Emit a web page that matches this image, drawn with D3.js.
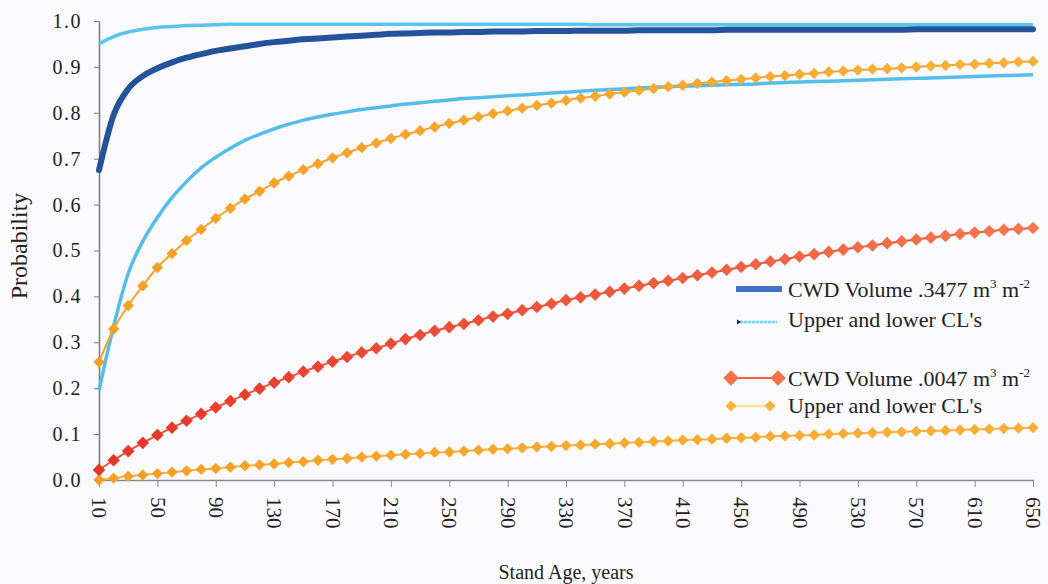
<!DOCTYPE html>
<html>
<head>
<meta charset="utf-8">
<script src="https://cdn.jsdelivr.net/npm/d3@7"></script>
<style>
  body { margin: 0; background: #fafafc; }
  svg { display: block; }
  text { font-family: "Liberation Serif", "Times New Roman", serif; fill: #222; }
</style>
</head>
<body>
<svg id="chart" width="1048" height="584"></svg>
<script>
// stand age, every 10 years
const ages = d3.range(10, 651, 10);
const xTicks = d3.range(10, 651, 40);
const yTicks = [0, 0.1, 0.2, 0.3, 0.4, 0.5, 0.6, 0.7, 0.8, 0.9, 1.0];

// CWD volume .3477 m3 m-2 and its confidence limits
const bigMain = [
    .675, .795, .852, .880, .897, .910, .920, .928, .935, .940,
    .945, .950, .954, .957, .960, .962, .964, .966, .968, .970,
    .972, .973, .974, .975, .975, .976, .976, .977, .977, .977,
    .978, .978, .978, .979, .979, .979, .979, .980, .980, .980,
    .980, .980, .980, .981, .981, .981, .981, .981, .981, .981,
    .981, .981, .981, .981, .981, .981, .982, .982, .982, .982,
    .982, .982, .982, .982, .982
];
const bigUpper = [
    .950, .966, .976, .982, .986, .988, .990, .991, .992, .993,
    .993, .993, .993, .993, .993, .993, .993, .993, .993, .993,
    .993, .993, .993, .993, .993, .993, .993, .993, .993, .993,
    .993, .993, .993, .993, .992, .992, .992, .992, .992, .992,
    .992, .992, .992, .992, .992, .992, .992, .992, .992, .992,
    .992, .992, .992, .992, .992, .992, .992, .992, .992, .992,
    .992, .992, .992, .992, .992
];
const bigLower = [
    .195, .335, .450, .520, .572, .615, .650, .680, .703, .723,
    .740, .753, .765, .775, .784, .791, .797, .802, .807, .811,
    .815, .819, .822, .825, .828, .831, .833, .835, .837, .839,
    .841, .843, .845, .847, .849, .851, .852, .854, .855, .857,
    .858, .859, .860, .861, .862, .863, .865, .866, .867, .868,
    .869, .870, .871, .872, .873, .874, .875, .876, .877, .878,
    .879, .880, .881, .882, .883
];

// CWD volume .0047 m3 m-2 and its confidence limits
const smallMain = [
    .022, .043, .063, .081, .098, .114, .129, .144, .158, .172,
    .186, .199, .212, .224, .236, .247, .258, .268, .278, .287,
    .297, .307, .316, .325, .333, .340, .348, .356, .362, .370,
    .377, .384, .392, .398, .404, .410, .417, .423, .429, .434,
    .440, .446, .452, .458, .464, .470, .476, .481, .487, .492,
    .497, .502, .507, .511, .516, .520, .524, .528, .532, .536,
    .539, .542, .545, .547, .549
];
const smallUpper = [
    .257, .329, .380, .423, .463, .493, .522, .546, .570, .592,
    .612, .629, .647, .662, .676, .689, .702, .713, .724, .734,
    .744, .753, .761, .769, .777, .784, .791, .798, .804, .810,
    .816, .821, .827, .832, .836, .841, .845, .849, .853, .857,
    .860, .864, .867, .870, .873, .876, .879, .881, .884, .886,
    .889, .891, .893, .895, .896, .898, .900, .902, .903, .905,
    .906, .908, .909, .911, .912
];
const smallLower = [
    .000, .004, .008, .011, .014, .017, .020, .023, .025, .028,
    .031, .033, .035, .038, .040, .043, .045, .047, .050, .052,
    .054, .056, .058, .060, .061, .063, .065, .067, .068, .070,
    .072, .073, .075, .076, .078, .079, .081, .082, .084, .085,
    .087, .088, .089, .091, .092, .093, .095, .096, .097, .098,
    .100, .101, .102, .103, .104, .105, .106, .107, .108, .109,
    .110, .111, .112, .113, .114
];

const svg = d3.select('#chart');

const x = d3.scaleLinear().domain([10, 650]).range([99, 1033]);
const y = d3.scaleLinear().domain([0, 1]).range([480, 21]);

function pairs(vals) {
    return ages.map((a, i) => [a, vals[i]]);
}

const line = d3.line()
    .x(d => x(d[0]))
    .y(d => y(d[1]))
    .curve(d3.curveMonotoneX);

// axes
const yAxis = svg.append('g')
    .attr('transform', `translate(${x(10)},0)`)
    .call(d3.axisLeft(y).tickValues(yTicks).tickFormat(d3.format('.1f')).tickSize(5).tickSizeOuter(0));
yAxis.select('.domain').attr('stroke', '#7a7a7a').attr('stroke-width', 1.5);
yAxis.selectAll('.tick line').attr('stroke', '#7a7a7a');
yAxis.selectAll('.tick text')
    .attr('x', -17)
    .style('font-family', '"Liberation Serif", serif')
    .style('font-size', '20px')
    .style('letter-spacing', '1.5px')
    .attr('fill', '#1e1e1e');

const xAxis = svg.append('g')
    .attr('transform', `translate(0,${y(0)})`)
    .call(d3.axisBottom(x).tickValues(xTicks).tickSize(7).tickSizeOuter(0));
xAxis.select('.domain').attr('stroke', '#8a8a8a').attr('stroke-width', 1.5);
xAxis.selectAll('.tick line').attr('stroke', '#8a8a8a');
xAxis.selectAll('.tick text')
    .attr('y', 0)
    .attr('x', 17)
    .attr('dy', '0.35em')
    .attr('transform', 'rotate(90)')
    .style('text-anchor', 'start')
    .style('font-family', '"Liberation Serif", serif')
    .style('font-size', '21px')
    .attr('fill', '#1e1e1e');

svg.append('text')
    .attr('transform', 'translate(27,246) rotate(-90)')
    .attr('text-anchor', 'middle')
    .style('font-size', '24px')
    .text('Probability');

svg.append('text')
    .attr('x', 566)
    .attr('y', 579)
    .attr('text-anchor', 'middle')
    .style('font-size', '20px')
    .text('Stand Age, years');

// blue series (plain lines)
svg.append('path')
    .datum(pairs(bigLower))
    .attr('fill', 'none')
    .attr('stroke', '#55bde9')
    .attr('stroke-width', 3.5)
    .attr('d', line);

svg.append('path')
    .datum(pairs(bigUpper))
    .attr('fill', 'none')
    .attr('stroke', '#5ac4ef')
    .attr('stroke-width', 3.5)
    .attr('d', line);

svg.append('path')
    .datum(pairs(bigMain))
    .attr('fill', 'none')
    .attr('stroke', '#24539c')
    .attr('stroke-width', 6)
    .attr('stroke-linecap', 'round')
    .attr('d', line);

// marker series
const diamond = d3.symbol().type(d3.symbolSquare);

function markerSeries(vals, lineColor, lineWidth, size, colorFn) {
    const g = svg.append('g');
    g.append('path')
        .datum(pairs(vals))
        .attr('fill', 'none')
        .attr('stroke', lineColor)
        .attr('stroke-width', lineWidth)
        .attr('d', line);
    g.selectAll('path.mk')
        .data(pairs(vals))
        .join('path')
        .attr('class', 'mk')
        .attr('d', diamond.size(size)())
        .attr('transform', d => `translate(${x(d[0])},${y(d[1])}) rotate(45)`)
        .attr('fill', (d, i) => colorFn(i / (ages.length - 1)));
}

const orangeCol = d3.interpolateRgb('#f59f22', '#f8b03a');
const redCol = d3.interpolateRgb('#e4352a', '#f5774f');

markerSeries(smallLower, '#f7b23c', 2, 64, orangeCol);
markerSeries(smallUpper, '#f5a42a', 2, 64, orangeCol);
markerSeries(smallMain, '#ee5538', 2, 80, redCol);

// legend
const lg = svg.append('g');

lg.append('line')
    .attr('x1', 736).attr('x2', 782)
    .attr('y1', 289).attr('y2', 289)
    .attr('stroke', '#4472c4')
    .attr('stroke-width', 6);

lg.append('line')
    .attr('x1', 740).attr('x2', 777)
    .attr('y1', 322).attr('y2', 322)
    .attr('stroke', '#6fd0f0')
    .attr('stroke-width', 2.5)
    .attr('stroke-dasharray', '3,1');
lg.append('path')
    .attr('d', 'M737,319.5 L741,322 L737,324.5 Z')
    .attr('fill', '#1a2a40');

lg.append('line')
    .attr('x1', 731).attr('x2', 778)
    .attr('y1', 378).attr('y2', 378)
    .attr('stroke', '#f2643e')
    .attr('stroke-width', 2);
lg.selectAll('path.lgr')
    .data([731, 778])
    .join('path')
    .attr('class', 'lgr')
    .attr('d', diamond.size(120)())
    .attr('transform', d => `translate(${d},378) rotate(45)`)
    .attr('fill', '#f5714a');

lg.append('line')
    .attr('x1', 731).attr('x2', 770)
    .attr('y1', 406).attr('y2', 406)
    .attr('stroke', '#f8e49a')
    .attr('stroke-width', 2.5);
lg.selectAll('path.lgo')
    .data([731, 770])
    .join('path')
    .attr('class', 'lgo')
    .attr('d', diamond.size(60)())
    .attr('transform', d => `translate(${d},406) rotate(45)`)
    .attr('fill', '#f7b23c');

function volumeLabel(yPos, vol) {
    const t = lg.append('text')
        .attr('x', 788)
        .attr('y', yPos)
        .style('font-size', '22px');
    t.append('tspan').text(`CWD Volume ${vol} m`);
    t.append('tspan').attr('dy', -9).style('font-size', '13px').text('3');
    t.append('tspan').attr('dy', 9).text(' m');
    t.append('tspan').attr('dy', -9).style('font-size', '13px').text('-2');
}

volumeLabel(297, '.3477');
lg.append('text').attr('x', 788).attr('y', 327).style('font-size', '22px').text("Upper and lower CL's");
volumeLabel(386, '.0047');
lg.append('text').attr('x', 788).attr('y', 413).style('font-size', '22px').text("Upper and lower CL's");
</script>
</body>
</html>
